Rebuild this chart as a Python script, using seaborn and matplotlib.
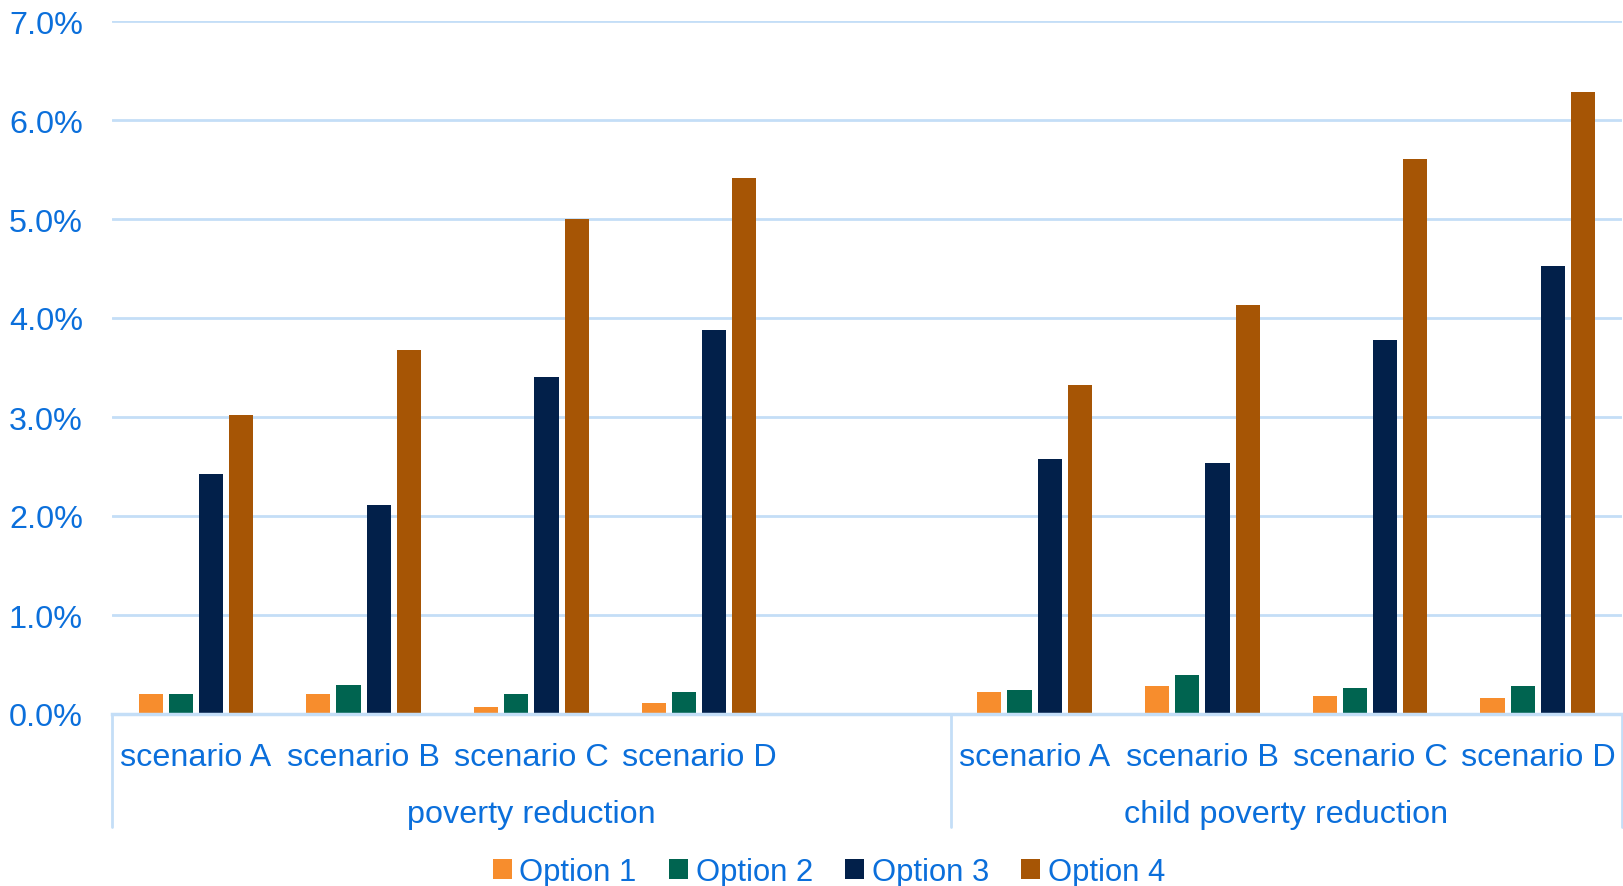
import matplotlib
matplotlib.use("Agg")
import matplotlib.pyplot as plt
import matplotlib.transforms as mtransforms
from matplotlib.patches import Patch
from matplotlib.ticker import FuncFormatter, MultipleLocator
import pandas as pd
import seaborn as sns

# Poverty-reduction effect (%) per policy option and scenario
groups = ["poverty reduction", "child poverty reduction"]
scenarios = ["scenario A", "scenario B", "scenario C", "scenario D"]
options = ["Option 1", "Option 2", "Option 3", "Option 4"]

poverty_opt1 = [0.20, 0.20, 0.07, 0.11]
poverty_opt2 = [0.20, 0.29, 0.20, 0.22]
poverty_opt3 = [2.42, 2.11, 3.40, 3.88]
poverty_opt4 = [3.02, 3.68, 5.00, 5.41]

child_opt1 = [0.22, 0.28, 0.18, 0.16]
child_opt2 = [0.24, 0.39, 0.26, 0.28]
child_opt3 = [2.58, 2.54, 3.78, 4.53]
child_opt4 = [3.32, 4.13, 5.61, 6.28]

colors = ["#F78D2D", "#006450", "#02204A", "#A65505"]
text_color = "#0B6FDB"
grid_color = "#C4DEF7"
fs = 23.3

series = {
    groups[0]: [poverty_opt1, poverty_opt2, poverty_opt3, poverty_opt4],
    groups[1]: [child_opt1, child_opt2, child_opt3, child_opt4],
}

rows = []
for g in groups:
    for oi, opt in enumerate(options):
        for si, sc in enumerate(scenarios):
            rows.append({"slot": f"{g}|{sc}", "option": opt, "value": series[g][oi][si]})
df = pd.DataFrame(rows)

spacer = "spacer"
order = [f"{groups[0]}|{s}" for s in scenarios] + [spacer] + [f"{groups[1]}|{s}" for s in scenarios]

sns.set_theme(style="white")
plt.rcParams["font.family"] = ["Liberation Sans", "DejaVu Sans"]

fig = plt.figure(figsize=(16.23, 8.87), dpi=100)
ax = fig.add_axes([112 / 1623, 1 - 715 / 887, 1 - 112 / 1623 - 0.0008, (715 - 22) / 887])

sns.barplot(data=df, x="slot", y="value", hue="option", order=order,
            hue_order=options, palette=dict(zip(options, colors)),
            width=0.72, gap=0.2, saturation=1, legend=False, ax=ax,
            edgecolor="none", linewidth=0)

ax.set_xlim(-0.5, len(order) - 0.5)
ax.set_ylim(0, 7)
ax.yaxis.set_major_locator(MultipleLocator(1))
ax.yaxis.set_major_formatter(FuncFormatter(lambda v, p: f"{v:.1f}%"))
ax.grid(axis="y", color=grid_color, linewidth=2)
ax.grid(axis="x", visible=False)
ax.set_axisbelow(True)
for side in ["top", "right", "left"]:
    ax.spines[side].set_visible(False)
ax.spines["bottom"].set_color(grid_color)
ax.spines["bottom"].set_linewidth(2.5)

ax.set_xlabel("")
ax.set_ylabel("")
ax.tick_params(axis="y", length=0, pad=21, labelsize=fs, labelcolor=text_color)
ax.tick_params(axis="x", length=0, pad=20, labelsize=fs, labelcolor=text_color)
ax.set_xticks(range(len(order)))
ax.set_xticklabels([s.split("|")[1] if "|" in s else "" for s in order])

trans = mtransforms.blended_transform_factory(ax.transData, ax.transAxes)
axes_h = 715 - 22
sep_bottom = -(828 - 715) / axes_h
for xpos in [-0.5, 4.5, len(order) - 0.5]:
    ax.plot([xpos, xpos], [0, sep_bottom], transform=trans, color=grid_color,
            linewidth=2, clip_on=False)

label_y = -(815 - 715) / axes_h
ax.text(2.0, label_y, groups[0], transform=trans, ha="center", va="center",
        fontsize=fs, color=text_color)
ax.text(6.5, label_y, groups[1], transform=trans, ha="center", va="center",
        fontsize=fs, color=text_color)

handles = [Patch(facecolor=c, edgecolor="none", label=o) for c, o in zip(colors, options)]
leg = fig.legend(handles=handles, loc="center", bbox_to_anchor=(829 / 1623, 1 - 873 / 887),
                 ncol=4, frameon=False, fontsize=22.3, handlelength=0.6, handleheight=0.6,
                 handletextpad=0.25, columnspacing=1.05, borderaxespad=0)
for t in leg.get_texts():
    t.set_color(text_color)

fig.savefig("out.png", dpi=100)
